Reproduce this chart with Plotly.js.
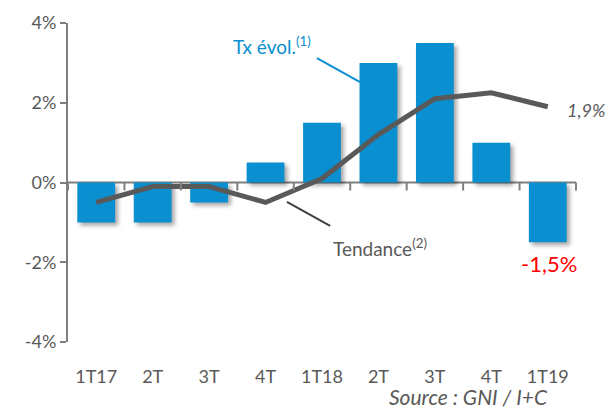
<!DOCTYPE html>
<html>
<head>
<meta charset="utf-8">
<script src="https://cdn.plot.ly/plotly-3.0.1.min.js"></script>
<style>
html,body{margin:0;padding:0;background:#fff;}
#chart{width:610px;height:410px;}
g.point path{filter:drop-shadow(3px 3px 2px rgba(0,0,0,0.35));}
</style>
</head>
<body>
<div id="chart"></div>
<script>
var categories = ['1T17','2T','3T','4T','1T18','2T ','3T ','4T ','1T19'];
var tickLabels = ['1T17','2T','3T','4T','1T18','2T','3T','4T','1T19'];
var txEvol = [-1.0, -1.0, -0.5, 0.5, 1.5, 3.0, 3.5, 1.0, -1.5];
var tendance = [-0.5, -0.1, -0.1, -0.5, 0.1, 1.2, 2.1, 2.25, 1.9];
var yTicks = [-4, -2, 0, 2, 4];
var yRange = [-4, 4];

var textColor = '#595959';
var axisColor = '#7f7f7f';
var font = 'Lato, "Open Sans", sans-serif';

var plotH = 410 - 23 - 68;
var zeroFrac = (0 - yRange[0]) / (yRange[1] - yRange[0]);
var tickFrac = 8 / plotH;

var traces = [
  {type:'bar', x:categories, y:txEvol, marker:{color:'#0A8FD0'}, width:0.67, hoverinfo:'none'},
  {type:'scatter', mode:'lines', x:categories, y:tendance, line:{color:'#595959', width:5}, hoverinfo:'none'}
];

var shapes = [
  {type:'line', xref:'paper', yref:'paper', x0:0.490, y0:0.890, x1:0.575, y1:0.815, line:{color:'#0A8FD0', width:2}},
  {type:'line', xref:'paper', yref:'paper', x0:0.431, y0:0.439, x1:0.516, y1:0.364, line:{color:'#404040', width:2}},
  {type:'line', xref:'paper', yref:'paper', x0:0, x1:1, y0:zeroFrac, y1:zeroFrac, line:{color:axisColor, width:2}, layer:'below'}
];
for (var i = 0; i <= categories.length; i++) {
  var fx = i / categories.length;
  shapes.push({type:'line', xref:'paper', yref:'paper', x0:fx, x1:fx, y0:zeroFrac, y1:zeroFrac - tickFrac,
               line:{color:axisColor, width:2}});
}

var layout = {
  width:610, height:410,
  margin:{l:68, r:34, t:23, b:68},
  paper_bgcolor:'#fff', plot_bgcolor:'rgba(0,0,0,0)',
  showlegend:false,
  font:{family:font, color:textColor, size:18},
  xaxis:{type:'category', categoryorder:'array', categoryarray:categories, tickvals:categories, ticktext:tickLabels,
         range:[-0.5,8.5], ticks:'', showline:false, showgrid:false, zeroline:false,
         ticklabelstandoff:22, tickfont:{size:18, color:textColor}},
  yaxis:{range:yRange, tickvals:yTicks, ticktext:yTicks.map(function(v){return v+'%';}), ticks:'outside', ticklen:6, tickwidth:2,
         tickcolor:axisColor, showline:true, linecolor:axisColor, linewidth:2, showgrid:false, zeroline:false,
         tickfont:{size:18, color:textColor}},
  shapes:shapes,
  annotations:[
    {xref:'paper', yref:'paper', x:0.402, y:0.931, xanchor:'center', yanchor:'middle', text:'Tx évol.<sup>(1)</sup>', showarrow:false, font:{size:19, color:'#0A8FD0'}},
    {xref:'paper', yref:'paper', x:0.614, y:0.295, xanchor:'center', yanchor:'middle', text:'Tendance<sup>(2)</sup>', showarrow:false, font:{size:19, color:textColor}},
    {xref:'paper', yref:'paper', x:1.020, y:0.727, xanchor:'center', yanchor:'middle', text:'<i>1,9%</i>', showarrow:false, font:{size:18, color:textColor}},
    {xref:'paper', yref:'paper', x:0.947, y:0.245, xanchor:'center', yanchor:'middle', text:'-1,5%', showarrow:false, font:{size:22, color:'#FF0000'}},
    {xref:'paper', yref:'paper', x:0.789, y:-0.170, xanchor:'center', yanchor:'middle', text:'<i>Source : GNI / I+C</i>', showarrow:false, font:{size:21, color:textColor}}
  ]
};

Plotly.newPlot('chart', traces, layout, {staticPlot:true});
</script>
</body>
</html>
